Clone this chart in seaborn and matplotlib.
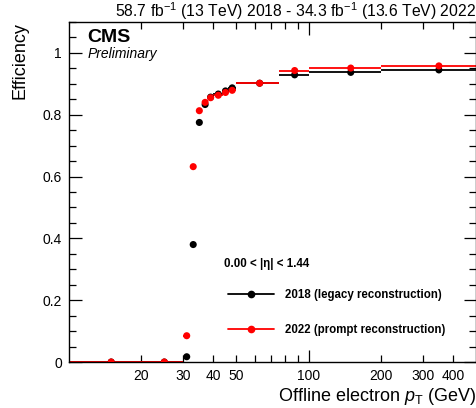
import numpy as np
import pandas as pd
import matplotlib
matplotlib.use("Agg")
import matplotlib.pyplot as plt
import seaborn as sns
from matplotlib.lines import Line2D
from matplotlib.ticker import FixedLocator, FuncFormatter, MultipleLocator

# bin edges in offline electron pT (GeV)
bin_edges = [10, 20, 30, 32, 34, 36, 38, 40, 44, 46, 50, 75, 100, 200, 500]

eff_2018 = [0.0, 0.0, 0.017, 0.38, 0.775, 0.833, 0.857, 0.867, 0.877, 0.887,
            0.902, 0.929, 0.937, 0.945]
eff_2022 = [0.0, 0.0, 0.085, 0.632, 0.813, 0.840, 0.855, 0.863, 0.872, 0.879,
            0.902, 0.943, 0.951, 0.958]

series_labels = ["2018 (legacy reconstruction)", "2022 (prompt reconstruction)"]
series_colors = ["black", "red"]

x_labels = [20, 30, 40, 50, 100, 200, 300, 400]

lumi_text = r"58.7 fb$^{-1}$ (13 TeV) 2018 - 34.3 fb$^{-1}$ (13.6 TeV) 2022"
eta_text = "0.00 < |η| < 1.44"


def build_frame():
    edges = np.array(bin_edges, dtype=float)
    centers = 0.5 * (edges[:-1] + edges[1:])
    half = 0.5 * (edges[1:] - edges[:-1])
    rows = []
    for lab, vals in zip(series_labels, [eff_2018, eff_2022]):
        for c, h, v in zip(centers, half, vals):
            rows.append({"pt": c, "xerr": h, "eff": v, "series": lab})
    return pd.DataFrame(rows)


def make_plot():
    sns.set_style("ticks")
    plt.rcParams["font.family"] = ["Liberation Sans", "DejaVu Sans"]
    plt.rcParams["mathtext.fontset"] = "custom"
    plt.rcParams["mathtext.rm"] = "Liberation Sans"
    plt.rcParams["mathtext.it"] = "Liberation Sans:italic"
    plt.rcParams["mathtext.bf"] = "Liberation Sans:bold"
    for key in ["text.color", "axes.labelcolor", "xtick.color", "ytick.color"]:
        plt.rcParams[key] = "black"

    df = build_frame()

    fig = plt.figure(figsize=(4.77, 4.08), dpi=100)
    ax = fig.add_axes([69 / 477, 1 - 362 / 408, 407 / 477, 340 / 408])

    for lab, col in zip(series_labels, series_colors):
        sub = df[df["series"] == lab]
        ax.errorbar(sub["pt"], sub["eff"], xerr=sub["xerr"], fmt="none",
                    ecolor=col, elinewidth=1.3, capsize=0, zorder=2)

    sns.scatterplot(data=df, x="pt", y="eff", hue="series",
                    palette=dict(zip(series_labels, series_colors)),
                    s=26, edgecolor="none", legend=False, ax=ax, zorder=3)

    ax.set_xscale("log")
    ax.set_xlim(10, 500)
    ax.set_ylim(0, 1.1)

    ax.xaxis.set_major_locator(FixedLocator([100]))
    ax.xaxis.set_minor_locator(FixedLocator([20, 30, 40, 50, 60, 70, 80, 90,
                                             200, 300, 400]))
    fmt = FuncFormatter(lambda v, p: f"{v:g}" if round(v) in x_labels else "")
    ax.xaxis.set_major_formatter(fmt)
    ax.xaxis.set_minor_formatter(fmt)

    ax.yaxis.set_major_locator(MultipleLocator(0.2))
    ax.yaxis.set_minor_locator(MultipleLocator(0.05))
    ax.yaxis.set_major_formatter(FuncFormatter(lambda v, p: f"{v:g}"))

    ax.tick_params(which="both", direction="in", top=True, right=True,
                   labelsize=10, width=0.9, colors="black")
    ax.tick_params(which="major", length=9, pad=5)
    ax.tick_params(which="minor", length=5, pad=5)
    for sp in ax.spines.values():
        sp.set_linewidth(1.0)
        sp.set_color("black")

    ax.set_xlabel(r"Offline electron $p_{\mathrm{T}}$ (GeV)", fontsize=13,
                  loc="right", labelpad=2)
    ax.set_ylabel("Efficiency", fontsize=13, loc="top", labelpad=10)
    ax.set_title(lumi_text, loc="right", fontsize=11.3, pad=3)

    ax.text(0.045, 0.941, "CMS", transform=ax.transAxes, fontsize=14,
            fontweight="bold", va="baseline")
    ax.text(0.045, 0.893, "Preliminary", transform=ax.transAxes, fontsize=10,
            style="italic", va="baseline")
    ax.text(0.381, 0.288, eta_text, transform=ax.transAxes, fontsize=8.3,
            fontweight="bold", va="center")

    handles = [Line2D([], [], color=c, lw=1.3, marker="o", markersize=4.5)
               for c in series_colors]
    ax.legend(handles, series_labels, loc="upper left",
              bbox_to_anchor=(0.39, 0.215), frameon=False, borderpad=0,
              borderaxespad=0, handlelength=4.0, handletextpad=1.0,
              labelspacing=2.0, prop={"weight": "bold", "size": 8.3})

    plt.savefig("out.png", dpi=100)


if __name__ == "__main__":
    make_plot()
